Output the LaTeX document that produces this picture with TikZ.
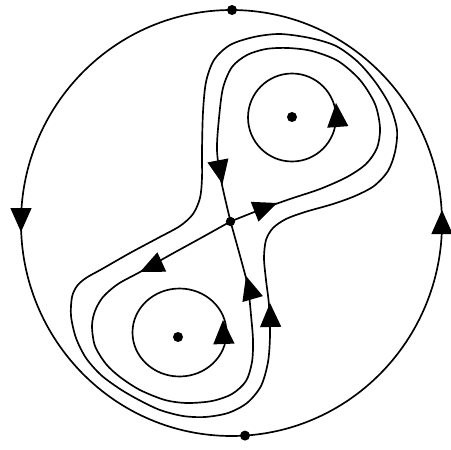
\documentclass[tikz,border=0pt]{standalone}
\usetikzlibrary{calc}
\tikzset{
  orbit/.style={line width=1.25pt, line join=round, line cap=round},
  eqpt/.style={circle, fill=black, inner sep=0pt, minimum size=7.5pt},
}
\newcommand{\flowtip}[2]{%
  \fill (#1) -- ($(#1)!18pt!(#2)!8pt!90:(#2)$) -- ($(#1)!18pt!(#2)!8pt!-90:(#2)$) -- cycle;}
\begin{document}
\begin{tikzpicture}[x=0.75pt,y=-0.75pt]
\useasboundingbox (0,0) rectangle (451,450);
% outer boundary
\draw[orbit] (231.5,223) ellipse [x radius=210.5, y radius=213];
% equilibria
\node[eqpt] (ptop) at (232,10) {};
\node[eqpt] (pbot) at (245,435.6) {};
\node[eqpt] (ctop) at (292,117) {};
\node[eqpt] (cbot) at (178,337) {};
\node[eqpt, minimum size=7pt] (S) at (230.5,221.5) {};
% small periodic orbits
\draw[orbit] (292,117.5) circle [radius=44];
\draw[orbit] (179.5,332.5) ellipse [x radius=47, y radius=44];
% outer figure-eight orbit
\draw[orbit] plot[smooth cycle] coordinates {
 (280,34) (310,38) (336,46) (358,62) (376,83) (390,106) (397,130) (395,152)
 (388,171) (374,186) (355,196) (333,204) (305,212) (286,219) (273,228) (266,240)
 (264,258) (266,280) (269,305) (270,335) (268,362) (261,386) (247,403) (228,413)
 (205,417) (183,416) (160,410) (139,400) (120,389) (101,375) (86,358) (76,338)
 (71,316) (72,297) (77,286) (86,278) (102,269) (130,253) (158,238) (180,226)
 (193,214) (200,198) (202,178) (202,150) (203,112) (206,82) (214,60) (230,45) (254,37)};
% upper homoclinic loop
\draw[orbit] plot[smooth] coordinates {
 (230.5,221.5) (262,209) (290,199) (320,189) (347,177) (366,164) (377,148) (380,128)
 (375,104) (360,80) (338,61) (312,51) (288,48) (266,49) (247,55) (232,67) (223,88)
 (219,118) (217,150) (221,180) (230.5,221.5)};
% lower homoclinic loop
\draw[orbit] plot[smooth] coordinates {
 (230.5,221.5) (200,238.5) (170,255) (140,272) (118,284) (103,297) (95,311) (92,326)
 (95,346) (106,364) (120,377) (140,390) (165,400) (187,403) (212,401) (232,394)
 (246,381) (252,362) (253,340) (251,315) (249,295) (246,278) (230.5,221.5)};
% arrowheads
\flowtip{21,232}{21,190}
\flowtip{442,210}{442,250}
\flowtip{336,103}{339,143}
\flowtip{223,320}{224.5,360}
\flowtip{222.5,184}{215,145}
\flowtip{277,203}{240,217.5}
\flowtip{140,272}{176,255.5}
\flowtip{246,276}{257,314}
\flowtip{270,303}{271,343}
\end{tikzpicture}
\end{document}
